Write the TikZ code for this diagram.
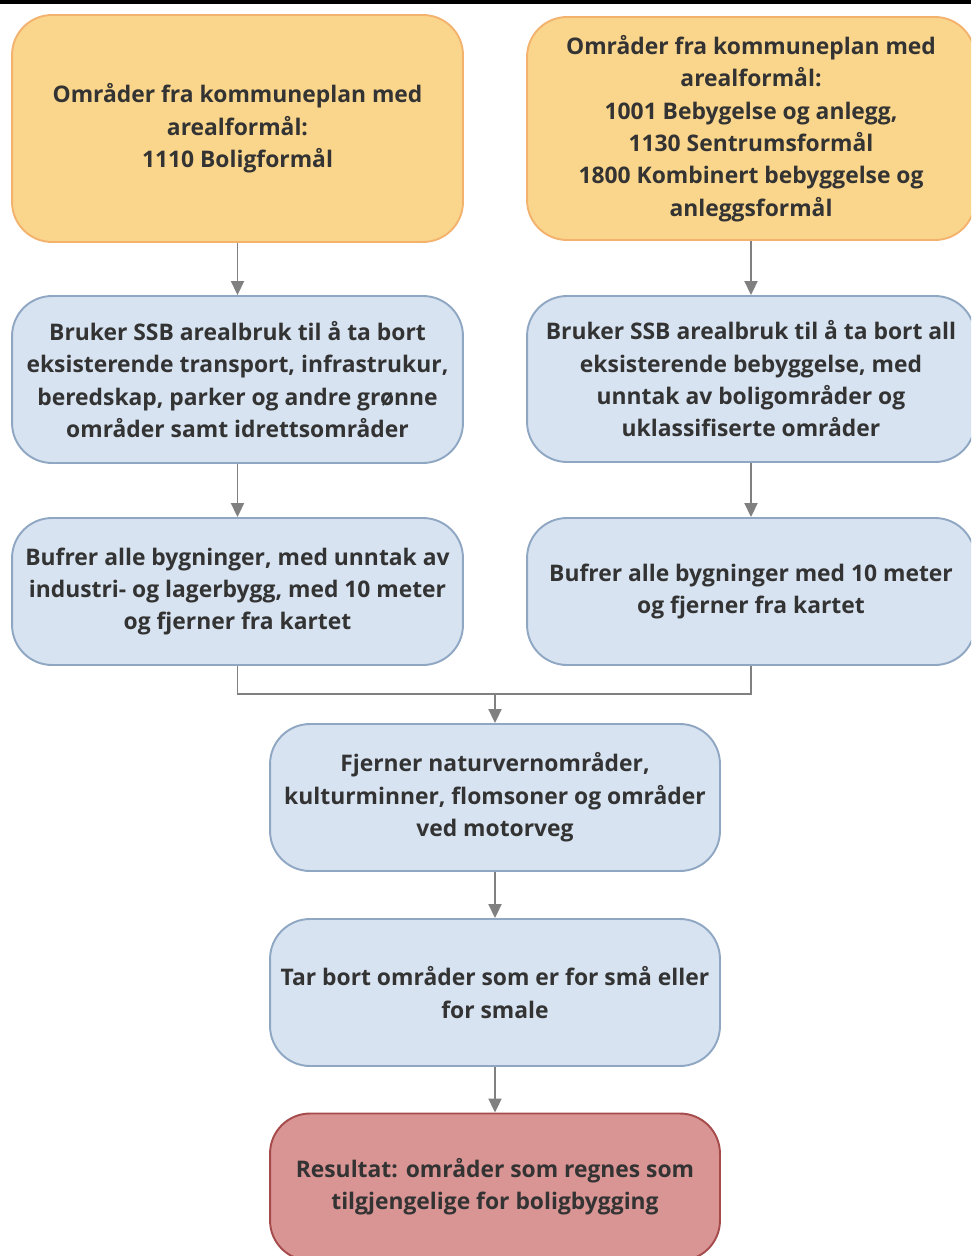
\documentclass[tikz,border=0pt]{standalone}
\usepackage{fontspec}
\setmainfont{Open Sans}
\usetikzlibrary{arrows.meta}
\definecolor{orfill}{HTML}{FAD68C}
\definecolor{ordraw}{HTML}{F3B36E}
\definecolor{blfill}{HTML}{D7E3F1}
\definecolor{bldraw}{HTML}{8FA7C3}
\definecolor{rdfill}{HTML}{D99494}
\definecolor{rddraw}{HTML}{A64B4B}
\definecolor{txt}{HTML}{333333}
\definecolor{arr}{HTML}{808080}
\tikzset{
  box/.style={rounded corners=0.8cm, line width=1.1pt, align=center, text=txt,
    font=\bfseries\fontsize{13}{18.4}\selectfont, inner sep=0pt},
  obox/.style={box, fill=orfill, draw=ordraw},
  bbox/.style={box, fill=blfill, draw=bldraw},
  rbox/.style={box, fill=rdfill, draw=rddraw},
  conn/.style={draw=arr, line width=1.1pt},
  arrow/.style={conn, -{Triangle[width=0.26cm,length=0.28cm]}}
}
\newcommand{\lowtext}[1]{\raisebox{-0.06cm}{\begin{tabular}{@{}c@{}}#1\end{tabular}}}
\begin{document}
\begin{tikzpicture}[x=0.02cm,y=-0.02cm]
\clip (0,0) rectangle (971,1256);
\fill[white] (0,0) rectangle (971,1256);
\draw[line width=0.08cm, black] (0,2) -- (971,2);
\node[obox, minimum width=9.02cm, minimum height=4.54cm] (L1) at (237.5,128.5)
  {Områder fra kommuneplan med\\arealformål:\\1110 Boligformål};
\node[obox, minimum width=8.96cm, minimum height=4.46cm] (R1) at (751,128.5)
  {Områder fra kommuneplan med\\arealformål:\\1001 Bebygelse og anlegg,\\1130 Sentrumsformål\\1800 Kombinert bebyggelse og\\anleggsformål};
\node[bbox, minimum width=9.02cm, minimum height=3.34cm] (L2) at (237.5,379.5)
  {Bruker SSB arealbruk til å ta bort\\eksisterende transport, infrastrukur,\\beredskap, parker og andre grønne\\områder samt idrettsområder};
\node[bbox, minimum width=8.96cm, minimum height=3.32cm] (R2) at (751,379)
  {Bruker SSB arealbruk til å ta bort all\\eksisterende bebyggelse, med\\unntak av boligområder og\\uklassifiserte områder};
\node[bbox, minimum width=9.02cm, minimum height=2.94cm] (L3) at (237.5,591.5)
  {Bufrer alle bygninger, med unntak av\\industri- og lagerbygg, med 10 meter\\og fjerner fra kartet};
\node[bbox, minimum width=8.96cm, minimum height=2.94cm] (R3) at (751,591.5)
  {Bufrer alle bygninger med 10 meter\\og fjerner fra kartet};
\node[bbox, minimum width=9.0cm, minimum height=2.94cm] (M1) at (495,797.5)
  {Fjerner naturvernområder,\\kulturminner, flomsoner og områder\\ved motorveg};
\node[bbox, minimum width=9.0cm, minimum height=2.94cm] (M2) at (495,992.5)
  {Tar bort områder som er for små eller\\for smale};
\node[rbox, minimum width=9.0cm, minimum height=2.94cm] (M3) at (495,1187)
  {Resultat: områder som regnes som\\tilgjengelige for boligbygging};
\draw[arrow] (L1) -- (L2);
\draw[arrow] (L2) -- (L3);
\draw[arrow] (R1) -- (R2);
\draw[arrow] (R2) -- (R3);
\coordinate (J) at (495,694);
\draw[conn] (L3.south) |- (J) -| (R3.south);
\draw[arrow] (J) -- (M1.north);
\draw[arrow] (M1) -- (M2);
\draw[arrow] (M2) -- (M3);
\end{tikzpicture}
\end{document}
